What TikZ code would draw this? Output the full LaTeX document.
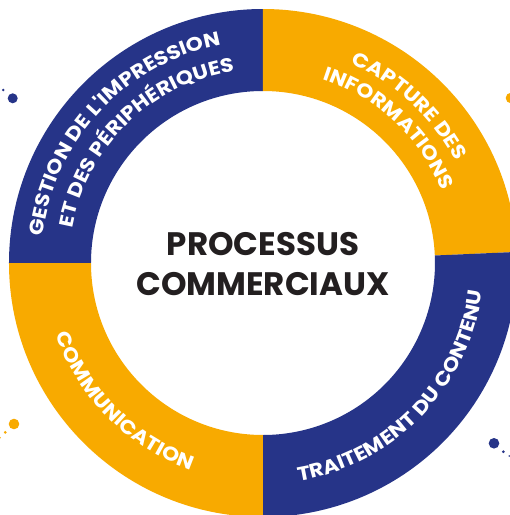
\documentclass[tikz,border=0pt]{standalone}
\usepackage{fontspec}
\setmainfont{Poppins}
\newfontfamily\ringfamily{Poppins}[FakeStretch=1.12]
\usetikzlibrary{decorations.text}
\definecolor{ringnavy}{RGB}{38,52,136}
\definecolor{ringorange}{RGB}{248,170,0}
\definecolor{titleink}{RGB}{35,31,32}
\newcommand{\ringfont}{\ringfamily\bfseries\fontsize{19.5}{19.5}\selectfont}
\tikzset{
	ringtext/.style={decorate, decoration={text along path, text color=white, text align=center, text={|\ringfont|#1}}}
}

\begin{document}
\begin{tikzpicture}[x=1pt, y=1pt]
			%%%%% START %%%%%
			
			\useasboundingbox (-263, -252) rectangle (247, 263);
			\fill[white] (-263, -252) rectangle (247, 263);
			
			% ring, four quarters
			\fill[ringnavy] (90:254pt) arc (90:180:254pt) -- (180:172pt) arc (180:90:172pt) -- cycle;
			\fill[ringorange] (2.5:254pt) arc (2.5:90:254pt) -- (90:172pt) arc (90:2.5:172pt) -- cycle;
			\fill[ringnavy] (270:254pt) arc (270:362.5:254pt) -- (2.5:172pt) arc (362.5:270:172pt) -- cycle;
			\fill[ringorange] (180:254pt) arc (180:270:254pt) -- (270:172pt) arc (270:180:172pt) -- cycle;
			
			% texts on the ring
			\path[ringtext={GESTION DE L'IMPRESSION}] (185:222pt) arc (185:89:222pt);
			\path[ringtext={ET DES PÉRIPHÉRIQUES}] (181:194pt) arc (181:87:194pt);
			
			\path[ringtext={CAPTURE DES}] (95:218pt) arc (95:-1:218pt);
			\path[ringtext={INFORMATIONS}] (95:193pt) arc (95:-1:193pt);
			
			\path[ringtext={TRAITEMENT DU CONTENU}] (-92:221pt) arc (-92:4:221pt);
			
			\path[ringtext={COMMUNICATION}] (178:219pt) arc (178:272:219pt);
			
			% centre
			\node[font=\bfseries\fontsize{32.5}{40}\selectfont, text=titleink, align=center] (title) at (0, -1) {PROCESSUS\\COMMERCIAUX};
			
			% dots
			\fill[ringnavy] (-250.3, 164.7) circle (5pt);
			\fill[ringnavy] (-259.7, 173) circle (1.4pt);
			
			\fill[ringorange] (248, 165) circle (5.3pt);
			
			\fill[ringorange] (-249, -161) circle (5.3pt);
			\fill[ringorange] (-257.7, -169.3) circle (1.5pt);
			\fill[ringorange] (-263, -174.7) circle (0.9pt);
			
			\fill[ringnavy] (231, -180.3) circle (5.3pt);
			\fill[ringnavy] (240.3, -188.7) circle (1.5pt);
			\fill[ringnavy] (246.3, -193) circle (0.9pt);
			
			%%%%% END %%%%%
		\end{tikzpicture}
\end{document}
